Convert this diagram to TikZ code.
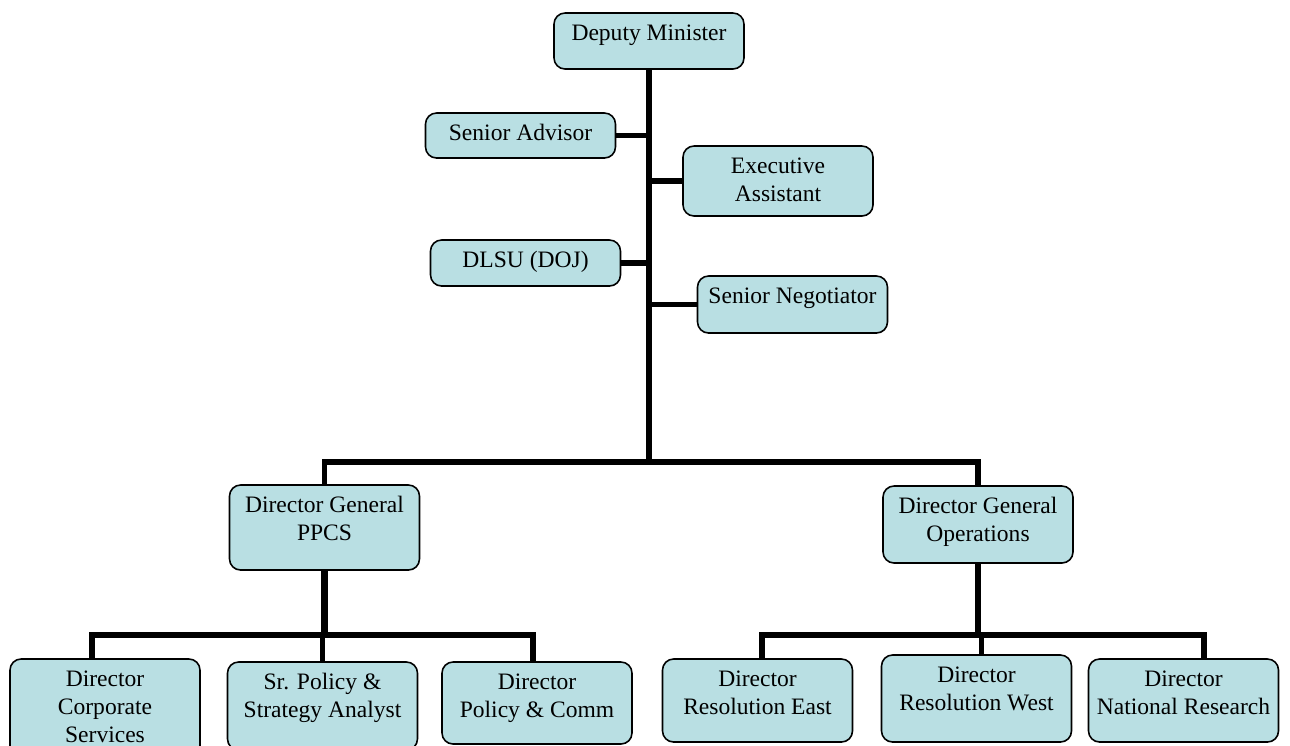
\documentclass[tikz,border=0pt]{standalone}
\usepackage{fontspec}
\setmainfont{Liberation Serif}
\definecolor{paleblue}{HTML}{B9DFE3}
\tikzset{post/.style={draw=black,rounded corners=0.22cm,fill=paleblue,minimum width=3.8cm,inner sep=0pt,line width=0.9pt},boxtext/.style={anchor=north,yshift=-0.24cm,align=center,inner sep=0pt,font=\fontsize{13.4}{15.9}\selectfont},link/.style={draw=black,line width=3.1pt}}

\begin{document}
\begin{tikzpicture}[x=0.02cm,y=-0.02cm]
\useasboundingbox (0,0) rectangle (1290,745);
\clip (0,0) rectangle (1290,745);
% top of the chart
\node[post,minimum height=1.12cm,label={[boxtext]north:Deputy Minister}] (dm) at (649,41) {};
\node[post,minimum height=0.9cm,label={[boxtext]north:Senior Advisor}] (sa) at (520.5,135.5) {};
\node[post,minimum height=1.4cm,label={[boxtext]north:{Executive\\Assistant}}] (ea) at (778,181) {};
\node[post,minimum height=0.92cm,label={[boxtext]north:DLSU (DOJ)}] (dlsu) at (525.5,263) {};
\node[post,minimum height=1.14cm,label={[boxtext]north:Senior Negotiator}] (sn) at (792.5,304.5) {};
% directors general
\node[post,minimum height=1.7cm,label={[boxtext]north:{Director General\\PPCS}}] (dgp) at (324.5,527.5) {};
\node[post,minimum height=1.54cm,label={[boxtext]north:{Director General\\Operations}}] (dgo) at (978,524.5) {};
% directors
\node[post,minimum height=2.2cm,label={[boxtext]north:{Director\\Corporate\\Services}}] (dcs) at (105,714) {};
\node[post,minimum height=1.76cm,label={[boxtext]north:{Sr. Policy \&\\Strategy Analyst}}] (spa) at (322.5,706) {};
\node[post,minimum height=1.64cm,label={[boxtext]north:{Director\\Policy \& Comm}}] (dpc) at (537,703) {};
\node[post,minimum height=1.66cm,label={[boxtext]north:{Director\\Resolution East}}] (dre) at (757.5,700.5) {};
\node[post,minimum height=1.74cm,label={[boxtext]north:{Director\\Resolution West}}] (drw) at (976.5,698.5) {};
\node[post,minimum height=1.66cm,label={[boxtext]north:{Director\\National Research}}] (dnr) at (1183.5,700.5) {};
% connectors
\coordinate (hub) at (649,462);
\coordinate (pbar) at (322,635);
\coordinate (obar) at (981,635);
\draw[link,line width=3.4pt] (dm.south) -- (dm.south |- hub);
\foreach \b in {sa,dlsu}\draw[link] (\b.east) -- (\b.east -| dm.south);
\foreach \b in {ea,sn}\draw[link] (\b.west) -- (\b.west -| dm.south);
\draw[link] (dgp.north) |- (hub) -| (dgo.north);
\draw[link,line width=4.5pt] (dgp.south) -- (dgp.south |- pbar);
\draw[link] ([xshift=-0.26cm]dcs.north) |- (pbar) -| ([xshift=-0.08cm]dpc.north);
\draw[link] (spa.north) -- (spa.north |- pbar);
\draw[link] (dgo.south) -- (dgo.south |- obar);
\draw[link] ([xshift=0.09cm]dre.north) |- (obar) -| ([xshift=0.41cm]dnr.north);
\draw[link] ([xshift=0.1cm]drw.north) -- ([xshift=0.1cm]drw.north |- obar);
\end{tikzpicture}
\end{document}
